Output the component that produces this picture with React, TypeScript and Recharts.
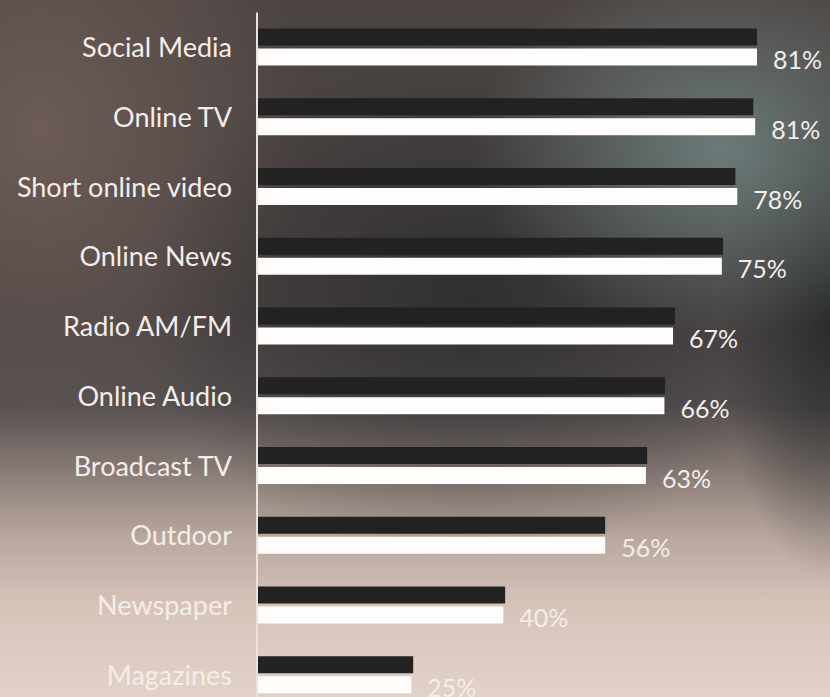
import React from 'react';
import { BarChart, Bar, XAxis, YAxis, LabelList } from 'recharts';

const categories = [
  'Social Media',
  'Online TV',
  'Short online video',
  'Online News',
  'Radio AM/FM',
  'Online Audio',
  'Broadcast TV',
  'Outdoor',
  'Newspaper',
  'Magazines',
];
const darkValues = [81, 80.4, 77.5, 75.5, 67.7, 66.1, 63.2, 56.4, 40.2, 25.3];
const whiteValues = [81, 80.7, 77.8, 75.3, 67.4, 66, 63, 56.4, 39.9, 25];

const data = categories.map((name, i) => ({
  name,
  dark: darkValues[i],
  white: whiteValues[i],
}));

const FONT = 'Lato, "Open Sans", sans-serif';
const TEXT = '#f4ede9';

const background = [
  'radial-gradient(ellipse 250px 190px at 720px 150px, rgba(112,132,130,0.85), rgba(112,132,130,0) 100%)',
  'radial-gradient(ellipse 330px 260px at 470px 300px, rgba(38,38,40,0.7), rgba(38,38,40,0) 100%)',
  'radial-gradient(ellipse 110px 260px at 830px 320px, rgba(35,38,38,0.8), rgba(35,38,38,0) 100%)',
  'radial-gradient(ellipse 270px 320px at 40px 130px, rgba(112,94,88,0.9), rgba(112,94,88,0) 100%)',
  'linear-gradient(180deg, #4c4442 0%, #4a4444 45%, #565050 58%, #857873 67%, #b8a79e 77%, #d6c4b9 87%, #e2d2c8 100%)',
].join(', ');

const renderValue = (props: any) => {
  const { x, y, width, height, value } = props;
  return (
    <text
      x={x + width + 16}
      y={y + height / 2 + 2}
      dominantBaseline="central"
      fill={TEXT}
      fontSize={25}
      fontFamily={FONT}
    >
      {`${Math.round(value)}%`}
    </text>
  );
};

export default function App() {
  return (
    <div
      style={{
        position: 'absolute',
        left: 0,
        top: 0,
        width: 830,
        height: 697,
        overflow: 'hidden',
        background,
      }}
    >
      <BarChart
        width={880}
        height={720}
        data={data}
        layout="vertical"
        margin={{ top: 12.6, right: 5.7, left: 0, bottom: 9.9 }}
        barSize={17}
        barGap={3}
      >
        <XAxis type="number" domain={[0, 100]} hide />
        <YAxis
          type="category"
          dataKey="name"
          width={257}
          tickLine={false}
          tickSize={0}
          tickMargin={25}
          axisLine={{ stroke: '#ece2dd', strokeWidth: 2 }}
          tick={{ fill: TEXT, fontSize: 27, fontFamily: FONT }}
          interval={0}
        />
        <Bar dataKey="dark" fill="#222222" isAnimationActive={false} />
        <Bar dataKey="white" fill="#fffdfb" isAnimationActive={false}>
          <LabelList dataKey="white" content={renderValue} />
        </Bar>
      </BarChart>
    </div>
  );
}
